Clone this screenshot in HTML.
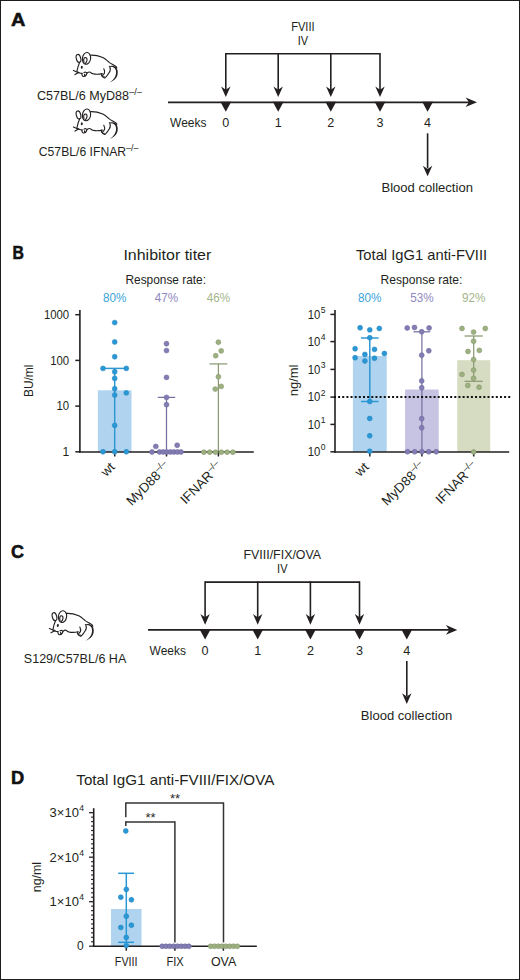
<!DOCTYPE html><html><head><meta charset="utf-8"><style>html,body{margin:0;padding:0;background:#fff;}svg{display:block;}text{font-family:"Liberation Sans",sans-serif;}</style></head><body>
<svg width="520" height="980" viewBox="0 0 520 980">
<rect x="0" y="0" width="520" height="980" fill="#fff"/>
<rect x="0.5" y="0.5" width="519" height="979" fill="none" stroke="#1c1c1c" stroke-width="1"/>
<text x="11.0" y="25.5" font-size="18" fill="#111" font-weight="bold" textLength="14.4" lengthAdjust="spacingAndGlyphs" stroke="#111" stroke-width="0.55">A</text>
<g transform="translate(70,48)"><g fill="none" stroke="#231f20" stroke-width="1.12" stroke-linecap="round" stroke-linejoin="round">
<ellipse cx="8.5" cy="10.4" rx="2.2" ry="4.05" transform="rotate(-14 8.5 10.4)"/>
<ellipse cx="16.5" cy="10.4" rx="4.1" ry="5.9" transform="rotate(8 16.5 10.4)"/>
<path d="M14,14.4 C13.5,12.4 13.8,10.2 15,9.6 C16.4,9.2 17.2,10.6 17,12.2 C16.8,13.6 16,14.8 15.2,15.6"/>
<path d="M9.6,14.4 C8.6,16.6 7.6,19.6 6.9,23.4"/>
<path d="M3.4,22.4 L8,24.4 M5,26.6 L7.6,25 M8.2,24.6 C9.6,25 10.8,25.4 12,25.4"/>
<path d="M12,25.4 C11.7,27 12.4,28.4 13.6,28.5 C15,28.6 16.4,27.4 17,25.2 C16.6,24.2 15.2,23.8 14,24.6 M14.6,26.2 C14.4,27.4 15,28.2 15.6,28"/>
<path d="M17,25 C18.4,24 19.8,23.6 20.6,24.4 C21.6,25.6 24,26.2 27,26.2 C29,26.2 30.6,26 32,25.6"/>
<path d="M20.3,7.2 C24,7 28,7.6 32.8,9.5 C35.4,10.8 37.4,13 39.2,14.4 C41.2,15.8 43.4,16.8 45.6,18.2 C46.4,18.8 46.8,19.4 46.8,20"/>
<path d="M39.8,18.4 C40.6,20.8 40,23.6 39.2,24.6 C38.2,26.4 37.2,27.8 35.4,29.6 C34.4,30.4 33.4,29.8 34,28.8"/>
<path d="M33.8,20.8 C34.6,22.4 35,24 34.4,25.2 C33.8,26.4 32.6,27 32.4,28 C32.2,28.8 33,29.6 34,28.8"/>
<path d="M32,25.6 C31.4,26.6 31.2,27.6 31.8,28"/>
</g>
<ellipse cx="11.8" cy="19.3" rx="1.0" ry="1.45" transform="rotate(15 11.75 19.3)" fill="#231f20"/>
<ellipse cx="8.4" cy="24.3" rx="1.3" ry="0.7" transform="rotate(25 8.4 24.3)" fill="#231f20"/>
<path d="M38.2,18.4 C40.6,17.6 43.4,17.4 45.7,19 C47.6,20.6 48,23.4 47.6,26.2 C47.2,29 45.4,31.2 43,32.8 C42,33.5 40.8,34.1 39.6,34.5 C41.6,33 43.6,31.4 44.8,29.2 C46,27 46.4,24.4 45.8,22.2 C45.2,20.2 43.4,19 40.8,18.8 Z" fill="#231f20"/></g>
<g transform="translate(70,104.5)"><g fill="none" stroke="#231f20" stroke-width="1.12" stroke-linecap="round" stroke-linejoin="round">
<ellipse cx="8.5" cy="10.4" rx="2.2" ry="4.05" transform="rotate(-14 8.5 10.4)"/>
<ellipse cx="16.5" cy="10.4" rx="4.1" ry="5.9" transform="rotate(8 16.5 10.4)"/>
<path d="M14,14.4 C13.5,12.4 13.8,10.2 15,9.6 C16.4,9.2 17.2,10.6 17,12.2 C16.8,13.6 16,14.8 15.2,15.6"/>
<path d="M9.6,14.4 C8.6,16.6 7.6,19.6 6.9,23.4"/>
<path d="M3.4,22.4 L8,24.4 M5,26.6 L7.6,25 M8.2,24.6 C9.6,25 10.8,25.4 12,25.4"/>
<path d="M12,25.4 C11.7,27 12.4,28.4 13.6,28.5 C15,28.6 16.4,27.4 17,25.2 C16.6,24.2 15.2,23.8 14,24.6 M14.6,26.2 C14.4,27.4 15,28.2 15.6,28"/>
<path d="M17,25 C18.4,24 19.8,23.6 20.6,24.4 C21.6,25.6 24,26.2 27,26.2 C29,26.2 30.6,26 32,25.6"/>
<path d="M20.3,7.2 C24,7 28,7.6 32.8,9.5 C35.4,10.8 37.4,13 39.2,14.4 C41.2,15.8 43.4,16.8 45.6,18.2 C46.4,18.8 46.8,19.4 46.8,20"/>
<path d="M39.8,18.4 C40.6,20.8 40,23.6 39.2,24.6 C38.2,26.4 37.2,27.8 35.4,29.6 C34.4,30.4 33.4,29.8 34,28.8"/>
<path d="M33.8,20.8 C34.6,22.4 35,24 34.4,25.2 C33.8,26.4 32.6,27 32.4,28 C32.2,28.8 33,29.6 34,28.8"/>
<path d="M32,25.6 C31.4,26.6 31.2,27.6 31.8,28"/>
</g>
<ellipse cx="11.8" cy="19.3" rx="1.0" ry="1.45" transform="rotate(15 11.75 19.3)" fill="#231f20"/>
<ellipse cx="8.4" cy="24.3" rx="1.3" ry="0.7" transform="rotate(25 8.4 24.3)" fill="#231f20"/>
<path d="M38.2,18.4 C40.6,17.6 43.4,17.4 45.7,19 C47.6,20.6 48,23.4 47.6,26.2 C47.2,29 45.4,31.2 43,32.8 C42,33.5 40.8,34.1 39.6,34.5 C41.6,33 43.6,31.4 44.8,29.2 C46,27 46.4,24.4 45.8,22.2 C45.2,20.2 43.4,19 40.8,18.8 Z" fill="#231f20"/></g>
<text x="36.9" y="100" font-size="12.6" fill="#231f20" textLength="92.2" lengthAdjust="spacingAndGlyphs">C57BL/6 MyD88</text>
<text x="129.2" y="94.8" font-size="8.5" fill="#231f20" textLength="12.8" lengthAdjust="spacingAndGlyphs">&#8211;/&#8211;</text>
<text x="38.8" y="156" font-size="12.6" fill="#231f20" textLength="87.3" lengthAdjust="spacingAndGlyphs">C57BL/6 IFNAR</text>
<text x="126.2" y="150.8" font-size="8.5" fill="#231f20" textLength="12.3" lengthAdjust="spacingAndGlyphs">&#8211;/&#8211;</text>
<line x1="168" y1="102.3" x2="471.0" y2="102.3" stroke="#231f20" stroke-width="1.7" />
<path d="M477.0,102.3 L465.6,97.5 L469.0,102.3 L465.6,107.1 Z" fill="#231f20"/>
<line x1="225.8" y1="53.8" x2="380.0" y2="53.8" stroke="#231f20" stroke-width="1.6" />
<line x1="225.8" y1="53.0" x2="225.8" y2="92.3" stroke="#231f20" stroke-width="1.6" />
<path d="M225.8,97.1 L221.10000000000002,86.5 L225.8,89.7 L230.5,86.5 Z" fill="#231f20"/>
<line x1="278.2" y1="53.0" x2="278.2" y2="92.3" stroke="#231f20" stroke-width="1.6" />
<path d="M278.2,97.1 L273.5,86.5 L278.2,89.7 L282.9,86.5 Z" fill="#231f20"/>
<line x1="330.8" y1="53.0" x2="330.8" y2="92.3" stroke="#231f20" stroke-width="1.6" />
<path d="M330.8,97.1 L326.1,86.5 L330.8,89.7 L335.5,86.5 Z" fill="#231f20"/>
<line x1="380.0" y1="53.0" x2="380.0" y2="92.3" stroke="#231f20" stroke-width="1.6" />
<path d="M380.0,97.1 L375.3,86.5 L380.0,89.7 L384.7,86.5 Z" fill="#231f20"/>
<path d="M220.4,101.8 L231.20000000000002,101.8 L225.8,111.8 Z" fill="#231f20"/>
<path d="M272.8,101.8 L283.59999999999997,101.8 L278.2,111.8 Z" fill="#231f20"/>
<path d="M325.40000000000003,101.8 L336.2,101.8 L330.8,111.8 Z" fill="#231f20"/>
<path d="M374.6,101.8 L385.4,101.8 L380.0,111.8 Z" fill="#231f20"/>
<path d="M422.20000000000005,101.8 L433.0,101.8 L427.6,111.8 Z" fill="#231f20"/>
<text x="302.9" y="30.6" font-size="12.6" fill="#231f20" text-anchor="middle" textLength="23.4" lengthAdjust="spacingAndGlyphs">FVIII</text>
<text x="302.9" y="45.3" font-size="12.6" fill="#231f20" text-anchor="middle" textLength="10.4" lengthAdjust="spacingAndGlyphs">IV</text>
<text x="170.1" y="126.8" font-size="12.6" fill="#231f20" textLength="36.4" lengthAdjust="spacingAndGlyphs">Weeks</text>
<text x="225.8" y="126.8" font-size="12.6" fill="#231f20" text-anchor="middle">0</text>
<text x="278.2" y="126.8" font-size="12.6" fill="#231f20" text-anchor="middle">1</text>
<text x="330.8" y="126.8" font-size="12.6" fill="#231f20" text-anchor="middle">2</text>
<text x="380.0" y="126.8" font-size="12.6" fill="#231f20" text-anchor="middle">3</text>
<text x="427.6" y="126.8" font-size="12.6" fill="#231f20" text-anchor="middle">4</text>
<line x1="427.6" y1="133.3" x2="427.6" y2="168.3" stroke="#231f20" stroke-width="1.6" />
<path d="M427.6,176.3 L422.90000000000003,165.70000000000002 L427.6,168.9 L432.3,165.70000000000002 Z" fill="#231f20"/>
<text x="381.5" y="191.9" font-size="12.8" fill="#231f20" textLength="91.4" lengthAdjust="spacingAndGlyphs">Blood collection</text>
<text x="12.4" y="258.8" font-size="18" fill="#111" font-weight="bold" textLength="11.4" lengthAdjust="spacingAndGlyphs" stroke="#111" stroke-width="0.55">B</text>
<text x="123.4" y="260" font-size="14.6" fill="#231f20" textLength="87.9" lengthAdjust="spacingAndGlyphs">Inhibitor titer</text>
<text x="125.5" y="283.8" font-size="12.6" fill="#231f20" textLength="80.5" lengthAdjust="spacingAndGlyphs">Response rate:</text>
<text x="114.7" y="301.8" font-size="12.6" fill="#3ba3d8" text-anchor="middle" textLength="23.4" lengthAdjust="spacingAndGlyphs">80%</text>
<text x="166.5" y="301.8" font-size="12.6" fill="#8f89c0" text-anchor="middle" textLength="23.4" lengthAdjust="spacingAndGlyphs">47%</text>
<text x="218.4" y="301.8" font-size="12.6" fill="#a3b58a" text-anchor="middle" textLength="23.4" lengthAdjust="spacingAndGlyphs">46%</text>
<rect x="97.9" y="390.3" width="33.6" height="61.69999999999999" fill="#b0d4f0"/>
<line x1="114.7" y1="368.4" x2="114.7" y2="452" stroke="#2f98d2" stroke-width="1.5" />
<line x1="103.05" y1="368.4" x2="126.35000000000001" y2="368.4" stroke="#2f98d2" stroke-width="1.5" />
<line x1="166.5" y1="397.4" x2="166.5" y2="452" stroke="#7570a0" stroke-width="1.25" />
<line x1="157.75" y1="397.4" x2="175.25" y2="397.4" stroke="#7570a0" stroke-width="1.25" />
<line x1="218.4" y1="363.9" x2="218.4" y2="452" stroke="#8b9a74" stroke-width="1.25" />
<line x1="209.5" y1="363.9" x2="227.3" y2="363.9" stroke="#8b9a74" stroke-width="1.25" />
<line x1="79.9" y1="310" x2="79.9" y2="452.75" stroke="#231f20" stroke-width="1.6" />
<line x1="79.10000000000001" y1="452" x2="253.8" y2="452" stroke="#231f20" stroke-width="1.6" />
<line x1="75.30000000000001" y1="314.7" x2="79.9" y2="314.7" stroke="#231f20" stroke-width="1.5" />
<line x1="75.30000000000001" y1="360.4" x2="79.9" y2="360.4" stroke="#231f20" stroke-width="1.5" />
<line x1="75.30000000000001" y1="406.1" x2="79.9" y2="406.1" stroke="#231f20" stroke-width="1.5" />
<line x1="75.30000000000001" y1="451.8" x2="79.9" y2="451.8" stroke="#231f20" stroke-width="1.5" />
<line x1="114.7" y1="452" x2="114.7" y2="456.5" stroke="#231f20" stroke-width="1.5" />
<line x1="166.5" y1="452" x2="166.5" y2="456.5" stroke="#231f20" stroke-width="1.5" />
<line x1="218.4" y1="452" x2="218.4" y2="456.5" stroke="#231f20" stroke-width="1.5" />
<circle cx="114.7" cy="322.6" r="2.45" fill="#2a98d4" stroke="#2187c2" stroke-width="0.6"/>
<circle cx="114.7" cy="342.0" r="2.45" fill="#2a98d4" stroke="#2187c2" stroke-width="0.6"/>
<circle cx="114.7" cy="356.8" r="2.45" fill="#2a98d4" stroke="#2187c2" stroke-width="0.6"/>
<circle cx="103" cy="368.4" r="2.45" fill="#2a98d4" stroke="#2187c2" stroke-width="0.6"/>
<circle cx="126.3" cy="368.4" r="2.45" fill="#2a98d4" stroke="#2187c2" stroke-width="0.6"/>
<circle cx="114.7" cy="371.8" r="2.45" fill="#2a98d4" stroke="#2187c2" stroke-width="0.6"/>
<circle cx="114.7" cy="378.4" r="2.45" fill="#2a98d4" stroke="#2187c2" stroke-width="0.6"/>
<circle cx="114.7" cy="388.8" r="2.45" fill="#2a98d4" stroke="#2187c2" stroke-width="0.6"/>
<circle cx="114.7" cy="395.1" r="2.45" fill="#2a98d4" stroke="#2187c2" stroke-width="0.6"/>
<circle cx="126.3" cy="392.9" r="2.45" fill="#2a98d4" stroke="#2187c2" stroke-width="0.6"/>
<circle cx="114.7" cy="425.4" r="2.45" fill="#2a98d4" stroke="#2187c2" stroke-width="0.6"/>
<circle cx="103" cy="451.8" r="2.45" fill="#2a98d4" stroke="#2187c2" stroke-width="0.6"/>
<circle cx="114.7" cy="451.8" r="2.45" fill="#2a98d4" stroke="#2187c2" stroke-width="0.6"/>
<circle cx="126.3" cy="451.8" r="2.45" fill="#2a98d4" stroke="#2187c2" stroke-width="0.6"/>
<circle cx="166.5" cy="343.7" r="2.45" fill="#837db5" stroke="#6c6799" stroke-width="0.6"/>
<circle cx="166.5" cy="350.6" r="2.45" fill="#837db5" stroke="#6c6799" stroke-width="0.6"/>
<circle cx="166.5" cy="377.4" r="2.45" fill="#837db5" stroke="#6c6799" stroke-width="0.6"/>
<circle cx="166.5" cy="397.4" r="2.45" fill="#837db5" stroke="#6c6799" stroke-width="0.6"/>
<circle cx="166.5" cy="404.7" r="2.45" fill="#837db5" stroke="#6c6799" stroke-width="0.6"/>
<circle cx="155.8" cy="446.4" r="2.45" fill="#837db5" stroke="#6c6799" stroke-width="0.6"/>
<circle cx="177.2" cy="445.3" r="2.45" fill="#837db5" stroke="#6c6799" stroke-width="0.6"/>
<circle cx="152" cy="452" r="2.45" fill="#837db5" stroke="#6c6799" stroke-width="0.6"/>
<circle cx="159.6" cy="452" r="2.45" fill="#837db5" stroke="#6c6799" stroke-width="0.6"/>
<circle cx="163.2" cy="452" r="2.45" fill="#837db5" stroke="#6c6799" stroke-width="0.6"/>
<circle cx="166.7" cy="452" r="2.45" fill="#837db5" stroke="#6c6799" stroke-width="0.6"/>
<circle cx="170.3" cy="452" r="2.45" fill="#837db5" stroke="#6c6799" stroke-width="0.6"/>
<circle cx="173.9" cy="452" r="2.45" fill="#837db5" stroke="#6c6799" stroke-width="0.6"/>
<circle cx="177.4" cy="452" r="2.45" fill="#837db5" stroke="#6c6799" stroke-width="0.6"/>
<circle cx="181.0" cy="452" r="2.45" fill="#837db5" stroke="#6c6799" stroke-width="0.6"/>
<circle cx="218.4" cy="342.2" r="2.45" fill="#9db180" stroke="#86966b" stroke-width="0.6"/>
<circle cx="221.2" cy="350.9" r="2.45" fill="#9db180" stroke="#86966b" stroke-width="0.6"/>
<circle cx="215.7" cy="355.7" r="2.45" fill="#9db180" stroke="#86966b" stroke-width="0.6"/>
<circle cx="218.4" cy="376.8" r="2.45" fill="#9db180" stroke="#86966b" stroke-width="0.6"/>
<circle cx="221.2" cy="386.4" r="2.45" fill="#9db180" stroke="#86966b" stroke-width="0.6"/>
<circle cx="215.2" cy="389.1" r="2.45" fill="#9db180" stroke="#86966b" stroke-width="0.6"/>
<circle cx="203.9" cy="452.2" r="2.45" fill="#9db180" stroke="#86966b" stroke-width="0.6"/>
<circle cx="209.7" cy="452.2" r="2.45" fill="#9db180" stroke="#86966b" stroke-width="0.6"/>
<circle cx="215.5" cy="452.2" r="2.45" fill="#9db180" stroke="#86966b" stroke-width="0.6"/>
<circle cx="221.3" cy="452.2" r="2.45" fill="#9db180" stroke="#86966b" stroke-width="0.6"/>
<circle cx="227.1" cy="452.2" r="2.45" fill="#9db180" stroke="#86966b" stroke-width="0.6"/>
<circle cx="232.9" cy="452.2" r="2.45" fill="#9db180" stroke="#86966b" stroke-width="0.6"/>
<text x="69.2" y="319.0" font-size="12.0" fill="#231f20" text-anchor="end" textLength="25.3" lengthAdjust="spacingAndGlyphs">1000</text>
<text x="69.2" y="364.7" font-size="12.0" fill="#231f20" text-anchor="end" textLength="19.0" lengthAdjust="spacingAndGlyphs">100</text>
<text x="69.2" y="410.40000000000003" font-size="12.0" fill="#231f20" text-anchor="end" textLength="12.7" lengthAdjust="spacingAndGlyphs">10</text>
<text x="69.2" y="456.1" font-size="12.0" fill="#231f20" text-anchor="end">1</text>
<text x="0" y="0" font-size="13.2" fill="#231f20" text-anchor="middle" textLength="32.6" lengthAdjust="spacingAndGlyphs" transform="translate(28.3,380.8) rotate(-90)" dominant-baseline="central">BU/ml</text>
<text x="0" y="0" font-size="13.3" fill="#231f20" text-anchor="end" transform="translate(115.7,467.8) rotate(-45)">wt</text>
<text x="0" y="0" font-size="13.3" fill="#231f20" text-anchor="end" transform="translate(170.5,467.5) rotate(-45)">MyD88<tspan font-size="9.2" dy="-5.2">&#8211;/&#8211;</tspan></text>
<text x="0" y="0" font-size="13.3" fill="#231f20" text-anchor="end" transform="translate(222.9,467.5) rotate(-45)">IFNAR<tspan font-size="9.2" dy="-5.2">&#8211;/&#8211;</tspan></text>
<text x="356.0" y="260" font-size="14.6" fill="#231f20" textLength="131.1" lengthAdjust="spacingAndGlyphs">Total IgG1 anti-FVIII</text>
<text x="380.6" y="283.8" font-size="12.6" fill="#231f20" textLength="81.8" lengthAdjust="spacingAndGlyphs">Response rate:</text>
<text x="369.8" y="301.8" font-size="12.6" fill="#3ba3d8" text-anchor="middle" textLength="23.4" lengthAdjust="spacingAndGlyphs">80%</text>
<text x="421.9" y="301.8" font-size="12.6" fill="#8f89c0" text-anchor="middle" textLength="23.4" lengthAdjust="spacingAndGlyphs">53%</text>
<text x="473.7" y="301.8" font-size="12.6" fill="#a3b58a" text-anchor="middle" textLength="23.4" lengthAdjust="spacingAndGlyphs">92%</text>
<rect x="352.90000000000003" y="356.0" width="33.8" height="96.0" fill="#b0d4f0"/>
<rect x="405.04999999999995" y="389.5" width="33.7" height="62.5" fill="#c7c3e2"/>
<rect x="457.2" y="360.2" width="33.0" height="91.80000000000001" fill="#d6dcc2"/>
<line x1="369.8" y1="338.0" x2="369.8" y2="401.5" stroke="#2f98d2" stroke-width="1.5" />
<line x1="361.0" y1="338.0" x2="378.6" y2="338.0" stroke="#2f98d2" stroke-width="1.5" />
<line x1="361.0" y1="401.5" x2="378.6" y2="401.5" stroke="#2f98d2" stroke-width="1.5" />
<line x1="421.9" y1="331.8" x2="421.9" y2="452" stroke="#7570a0" stroke-width="1.25" />
<line x1="413.5" y1="331.8" x2="430.29999999999995" y2="331.8" stroke="#7570a0" stroke-width="1.25" />
<line x1="473.7" y1="336.0" x2="473.7" y2="381.3" stroke="#8b9a74" stroke-width="1.25" />
<line x1="464.55" y1="336.0" x2="482.84999999999997" y2="336.0" stroke="#8b9a74" stroke-width="1.25" />
<line x1="464.55" y1="381.3" x2="482.84999999999997" y2="381.3" stroke="#8b9a74" stroke-width="1.25" />
<line x1="335.0" y1="310" x2="335.0" y2="452.75" stroke="#231f20" stroke-width="1.6" />
<line x1="334.2" y1="452" x2="509.2" y2="452" stroke="#231f20" stroke-width="1.6" />
<line x1="330.4" y1="314.4" x2="335.0" y2="314.4" stroke="#231f20" stroke-width="1.5" />
<line x1="330.4" y1="341.6" x2="335.0" y2="341.6" stroke="#231f20" stroke-width="1.5" />
<line x1="330.4" y1="369.4" x2="335.0" y2="369.4" stroke="#231f20" stroke-width="1.5" />
<line x1="330.4" y1="397.1" x2="335.0" y2="397.1" stroke="#231f20" stroke-width="1.5" />
<line x1="330.4" y1="424.4" x2="335.0" y2="424.4" stroke="#231f20" stroke-width="1.5" />
<line x1="330.4" y1="451.8" x2="335.0" y2="451.8" stroke="#231f20" stroke-width="1.5" />
<line x1="369.8" y1="452" x2="369.8" y2="456.5" stroke="#231f20" stroke-width="1.5" />
<line x1="421.9" y1="452" x2="421.9" y2="456.5" stroke="#231f20" stroke-width="1.5" />
<line x1="473.7" y1="452" x2="473.7" y2="456.5" stroke="#231f20" stroke-width="1.5" />
<circle cx="360.1" cy="327.8" r="2.45" fill="#2a98d4" stroke="#2187c2" stroke-width="0.6"/>
<circle cx="369.8" cy="329.9" r="2.45" fill="#2a98d4" stroke="#2187c2" stroke-width="0.6"/>
<circle cx="379.3" cy="328.5" r="2.45" fill="#2a98d4" stroke="#2187c2" stroke-width="0.6"/>
<circle cx="369.8" cy="337.8" r="2.45" fill="#2a98d4" stroke="#2187c2" stroke-width="0.6"/>
<circle cx="355.1" cy="348.8" r="2.45" fill="#2a98d4" stroke="#2187c2" stroke-width="0.6"/>
<circle cx="374.5" cy="349.4" r="2.45" fill="#2a98d4" stroke="#2187c2" stroke-width="0.6"/>
<circle cx="384.4" cy="353.5" r="2.45" fill="#2a98d4" stroke="#2187c2" stroke-width="0.6"/>
<circle cx="364.9" cy="354.4" r="2.45" fill="#2a98d4" stroke="#2187c2" stroke-width="0.6"/>
<circle cx="355.1" cy="357.8" r="2.45" fill="#2a98d4" stroke="#2187c2" stroke-width="0.6"/>
<circle cx="374.5" cy="358.3" r="2.45" fill="#2a98d4" stroke="#2187c2" stroke-width="0.6"/>
<circle cx="364.9" cy="361.0" r="2.45" fill="#2a98d4" stroke="#2187c2" stroke-width="0.6"/>
<circle cx="369.8" cy="401.5" r="2.45" fill="#2a98d4" stroke="#2187c2" stroke-width="0.6"/>
<circle cx="369.7" cy="418.5" r="2.45" fill="#2a98d4" stroke="#2187c2" stroke-width="0.6"/>
<circle cx="369.7" cy="435.8" r="2.45" fill="#2a98d4" stroke="#2187c2" stroke-width="0.6"/>
<circle cx="369.7" cy="451.3" r="2.45" fill="#2a98d4" stroke="#2187c2" stroke-width="0.6"/>
<circle cx="407.2" cy="328" r="2.45" fill="#837db5" stroke="#6c6799" stroke-width="0.6"/>
<circle cx="414.5" cy="327.5" r="2.45" fill="#837db5" stroke="#6c6799" stroke-width="0.6"/>
<circle cx="429.1" cy="328" r="2.45" fill="#837db5" stroke="#6c6799" stroke-width="0.6"/>
<circle cx="421.7" cy="331.8" r="2.45" fill="#837db5" stroke="#6c6799" stroke-width="0.6"/>
<circle cx="428.8" cy="350.8" r="2.45" fill="#837db5" stroke="#6c6799" stroke-width="0.6"/>
<circle cx="421.7" cy="355.2" r="2.45" fill="#837db5" stroke="#6c6799" stroke-width="0.6"/>
<circle cx="421.7" cy="380.9" r="2.45" fill="#837db5" stroke="#6c6799" stroke-width="0.6"/>
<circle cx="421.7" cy="387.8" r="2.45" fill="#837db5" stroke="#6c6799" stroke-width="0.6"/>
<circle cx="421.7" cy="418.7" r="2.45" fill="#837db5" stroke="#6c6799" stroke-width="0.6"/>
<circle cx="421.7" cy="427.8" r="2.45" fill="#837db5" stroke="#6c6799" stroke-width="0.6"/>
<circle cx="407.5" cy="451.8" r="2.45" fill="#837db5" stroke="#6c6799" stroke-width="0.6"/>
<circle cx="414.7" cy="451.8" r="2.45" fill="#837db5" stroke="#6c6799" stroke-width="0.6"/>
<circle cx="421.9" cy="451.8" r="2.45" fill="#837db5" stroke="#6c6799" stroke-width="0.6"/>
<circle cx="428.7" cy="451.8" r="2.45" fill="#837db5" stroke="#6c6799" stroke-width="0.6"/>
<circle cx="436.2" cy="451.8" r="2.45" fill="#837db5" stroke="#6c6799" stroke-width="0.6"/>
<circle cx="462" cy="328.5" r="2.45" fill="#9db180" stroke="#86966b" stroke-width="0.6"/>
<circle cx="485.3" cy="328.5" r="2.45" fill="#9db180" stroke="#86966b" stroke-width="0.6"/>
<circle cx="473.6" cy="332.1" r="2.45" fill="#9db180" stroke="#86966b" stroke-width="0.6"/>
<circle cx="473.6" cy="341.2" r="2.45" fill="#9db180" stroke="#86966b" stroke-width="0.6"/>
<circle cx="468" cy="351.5" r="2.45" fill="#9db180" stroke="#86966b" stroke-width="0.6"/>
<circle cx="479.3" cy="350.4" r="2.45" fill="#9db180" stroke="#86966b" stroke-width="0.6"/>
<circle cx="473.6" cy="359.6" r="2.45" fill="#9db180" stroke="#86966b" stroke-width="0.6"/>
<circle cx="473.6" cy="370.1" r="2.45" fill="#9db180" stroke="#86966b" stroke-width="0.6"/>
<circle cx="462" cy="374.4" r="2.45" fill="#9db180" stroke="#86966b" stroke-width="0.6"/>
<circle cx="473.6" cy="378.3" r="2.45" fill="#9db180" stroke="#86966b" stroke-width="0.6"/>
<circle cx="467.8" cy="385.5" r="2.45" fill="#9db180" stroke="#86966b" stroke-width="0.6"/>
<circle cx="479.1" cy="387.2" r="2.45" fill="#9db180" stroke="#86966b" stroke-width="0.6"/>
<circle cx="473.6" cy="452" r="2.45" fill="#9db180" stroke="#86966b" stroke-width="0.6"/>
<text x="320.4" y="318.7" font-size="12.0" fill="#231f20" text-anchor="end" textLength="12.6" lengthAdjust="spacingAndGlyphs">10</text>
<text x="320.7" y="312.79999999999995" font-size="8.6" fill="#231f20">5</text>
<text x="320.4" y="345.90000000000003" font-size="12.0" fill="#231f20" text-anchor="end" textLength="12.6" lengthAdjust="spacingAndGlyphs">10</text>
<text x="320.7" y="340.0" font-size="8.6" fill="#231f20">4</text>
<text x="320.4" y="373.7" font-size="12.0" fill="#231f20" text-anchor="end" textLength="12.6" lengthAdjust="spacingAndGlyphs">10</text>
<text x="320.7" y="367.79999999999995" font-size="8.6" fill="#231f20">3</text>
<text x="320.4" y="401.40000000000003" font-size="12.0" fill="#231f20" text-anchor="end" textLength="12.6" lengthAdjust="spacingAndGlyphs">10</text>
<text x="320.7" y="395.5" font-size="8.6" fill="#231f20">2</text>
<text x="320.4" y="428.7" font-size="12.0" fill="#231f20" text-anchor="end" textLength="12.6" lengthAdjust="spacingAndGlyphs">10</text>
<text x="320.7" y="422.79999999999995" font-size="8.6" fill="#231f20">1</text>
<text x="320.4" y="456.1" font-size="12.0" fill="#231f20" text-anchor="end" textLength="12.6" lengthAdjust="spacingAndGlyphs">10</text>
<text x="320.7" y="450.2" font-size="8.6" fill="#231f20">0</text>
<text x="0" y="0" font-size="13.2" fill="#231f20" text-anchor="middle" textLength="31.8" lengthAdjust="spacingAndGlyphs" transform="translate(293.2,380.4) rotate(-90)" dominant-baseline="central">ng/ml</text>
<text x="0" y="0" font-size="13.3" fill="#231f20" text-anchor="end" transform="translate(369.5,467.8) rotate(-45)">wt</text>
<text x="0" y="0" font-size="13.3" fill="#231f20" text-anchor="end" transform="translate(425.9,467.5) rotate(-45)">MyD88<tspan font-size="9.2" dy="-5.2">&#8211;/&#8211;</tspan></text>
<text x="0" y="0" font-size="13.3" fill="#231f20" text-anchor="end" transform="translate(478.2,467.5) rotate(-45)">IFNAR<tspan font-size="9.2" dy="-5.2">&#8211;/&#8211;</tspan></text>
<line x1="333.95" y1="396.95" x2="510.3" y2="396.95" stroke="#111" stroke-width="1.9" stroke-dasharray="2 2.15"/>
<text x="11.0" y="558.0" font-size="18.6" fill="#111" font-weight="bold" textLength="13.0" lengthAdjust="spacingAndGlyphs" stroke="#111" stroke-width="0.55">C</text>
<g transform="translate(46,606.2)"><g fill="none" stroke="#231f20" stroke-width="1.12" stroke-linecap="round" stroke-linejoin="round">
<ellipse cx="8.5" cy="10.4" rx="2.2" ry="4.05" transform="rotate(-14 8.5 10.4)"/>
<ellipse cx="16.5" cy="10.4" rx="4.1" ry="5.9" transform="rotate(8 16.5 10.4)"/>
<path d="M14,14.4 C13.5,12.4 13.8,10.2 15,9.6 C16.4,9.2 17.2,10.6 17,12.2 C16.8,13.6 16,14.8 15.2,15.6"/>
<path d="M9.6,14.4 C8.6,16.6 7.6,19.6 6.9,23.4"/>
<path d="M3.4,22.4 L8,24.4 M5,26.6 L7.6,25 M8.2,24.6 C9.6,25 10.8,25.4 12,25.4"/>
<path d="M12,25.4 C11.7,27 12.4,28.4 13.6,28.5 C15,28.6 16.4,27.4 17,25.2 C16.6,24.2 15.2,23.8 14,24.6 M14.6,26.2 C14.4,27.4 15,28.2 15.6,28"/>
<path d="M17,25 C18.4,24 19.8,23.6 20.6,24.4 C21.6,25.6 24,26.2 27,26.2 C29,26.2 30.6,26 32,25.6"/>
<path d="M20.3,7.2 C24,7 28,7.6 32.8,9.5 C35.4,10.8 37.4,13 39.2,14.4 C41.2,15.8 43.4,16.8 45.6,18.2 C46.4,18.8 46.8,19.4 46.8,20"/>
<path d="M39.8,18.4 C40.6,20.8 40,23.6 39.2,24.6 C38.2,26.4 37.2,27.8 35.4,29.6 C34.4,30.4 33.4,29.8 34,28.8"/>
<path d="M33.8,20.8 C34.6,22.4 35,24 34.4,25.2 C33.8,26.4 32.6,27 32.4,28 C32.2,28.8 33,29.6 34,28.8"/>
<path d="M32,25.6 C31.4,26.6 31.2,27.6 31.8,28"/>
</g>
<ellipse cx="11.8" cy="19.3" rx="1.0" ry="1.45" transform="rotate(15 11.75 19.3)" fill="#231f20"/>
<ellipse cx="8.4" cy="24.3" rx="1.3" ry="0.7" transform="rotate(25 8.4 24.3)" fill="#231f20"/>
<path d="M38.2,18.4 C40.6,17.6 43.4,17.4 45.7,19 C47.6,20.6 48,23.4 47.6,26.2 C47.2,29 45.4,31.2 43,32.8 C42,33.5 40.8,34.1 39.6,34.5 C41.6,33 43.6,31.4 44.8,29.2 C46,27 46.4,24.4 45.8,22.2 C45.2,20.2 43.4,19 40.8,18.8 Z" fill="#231f20"/></g>
<text x="23.8" y="663" font-size="12.6" fill="#231f20" textLength="102.5" lengthAdjust="spacingAndGlyphs">S129/C57BL/6 HA</text>
<line x1="148" y1="629.9" x2="451.3" y2="629.9" stroke="#231f20" stroke-width="1.7" />
<path d="M457.3,629.9 L445.90000000000003,625.1 L449.3,629.9 L445.90000000000003,634.6999999999999 Z" fill="#231f20"/>
<line x1="205.1" y1="582.1" x2="359.5" y2="582.1" stroke="#231f20" stroke-width="1.6" />
<line x1="205.1" y1="581.3000000000001" x2="205.1" y2="619.9" stroke="#231f20" stroke-width="1.6" />
<path d="M205.1,624.6999999999999 L200.4,614.0999999999999 L205.1,617.3 L209.79999999999998,614.0999999999999 Z" fill="#231f20"/>
<line x1="257.7" y1="581.3000000000001" x2="257.7" y2="619.9" stroke="#231f20" stroke-width="1.6" />
<path d="M257.7,624.6999999999999 L253.0,614.0999999999999 L257.7,617.3 L262.4,614.0999999999999 Z" fill="#231f20"/>
<line x1="310.4" y1="581.3000000000001" x2="310.4" y2="619.9" stroke="#231f20" stroke-width="1.6" />
<path d="M310.4,624.6999999999999 L305.7,614.0999999999999 L310.4,617.3 L315.09999999999997,614.0999999999999 Z" fill="#231f20"/>
<line x1="359.5" y1="581.3000000000001" x2="359.5" y2="619.9" stroke="#231f20" stroke-width="1.6" />
<path d="M359.5,624.6999999999999 L354.8,614.0999999999999 L359.5,617.3 L364.2,614.0999999999999 Z" fill="#231f20"/>
<path d="M199.7,629.4 L210.5,629.4 L205.1,639.4 Z" fill="#231f20"/>
<path d="M252.29999999999998,629.4 L263.09999999999997,629.4 L257.7,639.4 Z" fill="#231f20"/>
<path d="M305.0,629.4 L315.79999999999995,629.4 L310.4,639.4 Z" fill="#231f20"/>
<path d="M354.1,629.4 L364.9,629.4 L359.5,639.4 Z" fill="#231f20"/>
<path d="M401.40000000000003,629.4 L412.2,629.4 L406.8,639.4 Z" fill="#231f20"/>
<text x="282.3" y="558.5" font-size="12.6" fill="#231f20" text-anchor="middle" textLength="77.6" lengthAdjust="spacingAndGlyphs">FVIII/FIX/OVA</text>
<text x="282.3" y="573.0" font-size="12.6" fill="#231f20" text-anchor="middle" textLength="10.4" lengthAdjust="spacingAndGlyphs">IV</text>
<text x="149.6" y="655.0" font-size="12.6" fill="#231f20" textLength="36.4" lengthAdjust="spacingAndGlyphs">Weeks</text>
<text x="205.1" y="655.0" font-size="12.6" fill="#231f20" text-anchor="middle">0</text>
<text x="257.7" y="655.0" font-size="12.6" fill="#231f20" text-anchor="middle">1</text>
<text x="310.4" y="655.0" font-size="12.6" fill="#231f20" text-anchor="middle">2</text>
<text x="359.5" y="655.0" font-size="12.6" fill="#231f20" text-anchor="middle">3</text>
<text x="406.8" y="655.0" font-size="12.6" fill="#231f20" text-anchor="middle">4</text>
<line x1="406.8" y1="660.9" x2="406.8" y2="695.9" stroke="#231f20" stroke-width="1.6" />
<path d="M406.8,703.9 L402.1,693.3 L406.8,696.5 L411.5,693.3 Z" fill="#231f20"/>
<text x="360.8" y="719.6" font-size="12.8" fill="#231f20" textLength="91.4" lengthAdjust="spacingAndGlyphs">Blood collection</text>
<text x="11.1" y="783.7" font-size="18" fill="#111" font-weight="bold" textLength="13.2" lengthAdjust="spacingAndGlyphs" stroke="#111" stroke-width="0.55">D</text>
<text x="76.3" y="784.5" font-size="14.6" fill="#231f20" textLength="198" lengthAdjust="spacingAndGlyphs">Total IgG1 anti-FVIII/FIX/OVA</text>
<rect x="111" y="909" width="30.5" height="37.200000000000045" fill="#b0d4f0"/>
<line x1="126.3" y1="873.3" x2="126.3" y2="942.3" stroke="#2a98d4" stroke-width="1.5" />
<line x1="118.2" y1="873.3" x2="134.1" y2="873.3" stroke="#2a98d4" stroke-width="1.5" />
<line x1="118.2" y1="942.3" x2="134.1" y2="942.3" stroke="#2a98d4" stroke-width="1.5" />
<line x1="125.8" y1="803.1" x2="223.5" y2="803.1" stroke="#333" stroke-width="1.5" />
<line x1="125.8" y1="802.4" x2="125.8" y2="817.2" stroke="#333" stroke-width="1.5" />
<line x1="223.5" y1="802.4" x2="223.5" y2="942.4" stroke="#333" stroke-width="1.5" />
<line x1="125.8" y1="821.9" x2="174.9" y2="821.9" stroke="#333" stroke-width="1.5" />
<line x1="125.8" y1="821.2" x2="125.8" y2="826.0" stroke="#333" stroke-width="1.5" />
<line x1="174.9" y1="821.2" x2="174.9" y2="942.4" stroke="#333" stroke-width="1.5" />
<text x="175" y="803.4" font-size="13" fill="#2a2a2a" text-anchor="middle">**</text>
<text x="150.6" y="821.5" font-size="13" fill="#2a2a2a" text-anchor="middle">**</text>
<line x1="93.7" y1="808.2" x2="93.7" y2="946.95" stroke="#231f20" stroke-width="1.6" />
<line x1="92.9" y1="946.2" x2="256.8" y2="946.2" stroke="#231f20" stroke-width="1.6" />
<line x1="89.10000000000001" y1="946.2" x2="93.7" y2="946.2" stroke="#231f20" stroke-width="1.3" />
<line x1="91.10000000000001" y1="941.75" x2="93.7" y2="941.75" stroke="#231f20" stroke-width="1.15" />
<line x1="91.10000000000001" y1="937.3000000000001" x2="93.7" y2="937.3000000000001" stroke="#231f20" stroke-width="1.15" />
<line x1="91.10000000000001" y1="932.85" x2="93.7" y2="932.85" stroke="#231f20" stroke-width="1.15" />
<line x1="91.10000000000001" y1="928.4000000000001" x2="93.7" y2="928.4000000000001" stroke="#231f20" stroke-width="1.15" />
<line x1="91.10000000000001" y1="923.95" x2="93.7" y2="923.95" stroke="#231f20" stroke-width="1.15" />
<line x1="91.10000000000001" y1="919.5" x2="93.7" y2="919.5" stroke="#231f20" stroke-width="1.15" />
<line x1="91.10000000000001" y1="915.0500000000001" x2="93.7" y2="915.0500000000001" stroke="#231f20" stroke-width="1.15" />
<line x1="91.10000000000001" y1="910.6" x2="93.7" y2="910.6" stroke="#231f20" stroke-width="1.15" />
<line x1="91.10000000000001" y1="906.1500000000001" x2="93.7" y2="906.1500000000001" stroke="#231f20" stroke-width="1.15" />
<line x1="89.10000000000001" y1="901.7" x2="93.7" y2="901.7" stroke="#231f20" stroke-width="1.3" />
<line x1="91.10000000000001" y1="897.25" x2="93.7" y2="897.25" stroke="#231f20" stroke-width="1.15" />
<line x1="91.10000000000001" y1="892.8000000000001" x2="93.7" y2="892.8000000000001" stroke="#231f20" stroke-width="1.15" />
<line x1="91.10000000000001" y1="888.35" x2="93.7" y2="888.35" stroke="#231f20" stroke-width="1.15" />
<line x1="91.10000000000001" y1="883.9000000000001" x2="93.7" y2="883.9000000000001" stroke="#231f20" stroke-width="1.15" />
<line x1="91.10000000000001" y1="879.45" x2="93.7" y2="879.45" stroke="#231f20" stroke-width="1.15" />
<line x1="91.10000000000001" y1="875.0" x2="93.7" y2="875.0" stroke="#231f20" stroke-width="1.15" />
<line x1="91.10000000000001" y1="870.5500000000001" x2="93.7" y2="870.5500000000001" stroke="#231f20" stroke-width="1.15" />
<line x1="91.10000000000001" y1="866.1" x2="93.7" y2="866.1" stroke="#231f20" stroke-width="1.15" />
<line x1="91.10000000000001" y1="861.6500000000001" x2="93.7" y2="861.6500000000001" stroke="#231f20" stroke-width="1.15" />
<line x1="89.10000000000001" y1="857.2" x2="93.7" y2="857.2" stroke="#231f20" stroke-width="1.3" />
<line x1="91.10000000000001" y1="852.75" x2="93.7" y2="852.75" stroke="#231f20" stroke-width="1.15" />
<line x1="91.10000000000001" y1="848.3000000000001" x2="93.7" y2="848.3000000000001" stroke="#231f20" stroke-width="1.15" />
<line x1="91.10000000000001" y1="843.85" x2="93.7" y2="843.85" stroke="#231f20" stroke-width="1.15" />
<line x1="91.10000000000001" y1="839.4000000000001" x2="93.7" y2="839.4000000000001" stroke="#231f20" stroke-width="1.15" />
<line x1="91.10000000000001" y1="834.95" x2="93.7" y2="834.95" stroke="#231f20" stroke-width="1.15" />
<line x1="91.10000000000001" y1="830.5" x2="93.7" y2="830.5" stroke="#231f20" stroke-width="1.15" />
<line x1="91.10000000000001" y1="826.0500000000001" x2="93.7" y2="826.0500000000001" stroke="#231f20" stroke-width="1.15" />
<line x1="91.10000000000001" y1="821.6" x2="93.7" y2="821.6" stroke="#231f20" stroke-width="1.15" />
<line x1="91.10000000000001" y1="817.1500000000001" x2="93.7" y2="817.1500000000001" stroke="#231f20" stroke-width="1.15" />
<line x1="89.10000000000001" y1="812.7" x2="93.7" y2="812.7" stroke="#231f20" stroke-width="1.3" />
<line x1="126.3" y1="946.2" x2="126.3" y2="950.7" stroke="#231f20" stroke-width="1.5" />
<line x1="174.9" y1="946.2" x2="174.9" y2="950.7" stroke="#231f20" stroke-width="1.5" />
<line x1="223.4" y1="946.2" x2="223.4" y2="950.7" stroke="#231f20" stroke-width="1.5" />
<circle cx="125.8" cy="831" r="2.45" fill="#2a98d4" stroke="#2187c2" stroke-width="0.6"/>
<circle cx="126.3" cy="889.4" r="2.45" fill="#2a98d4" stroke="#2187c2" stroke-width="0.6"/>
<circle cx="120.8" cy="897.2" r="2.45" fill="#2a98d4" stroke="#2187c2" stroke-width="0.6"/>
<circle cx="131.4" cy="899.8" r="2.45" fill="#2a98d4" stroke="#2187c2" stroke-width="0.6"/>
<circle cx="126.3" cy="916.3" r="2.45" fill="#2a98d4" stroke="#2187c2" stroke-width="0.6"/>
<circle cx="120.8" cy="927.5" r="2.45" fill="#2a98d4" stroke="#2187c2" stroke-width="0.6"/>
<circle cx="131.4" cy="925.2" r="2.45" fill="#2a98d4" stroke="#2187c2" stroke-width="0.6"/>
<circle cx="126.3" cy="937.5" r="2.45" fill="#2a98d4" stroke="#2187c2" stroke-width="0.6"/>
<circle cx="126.3" cy="945.6" r="2.45" fill="#2a98d4" stroke="#2187c2" stroke-width="0.6"/>
<circle cx="162.2" cy="946.3" r="2.45" fill="#837db5" stroke="#6c6799" stroke-width="0.6"/>
<circle cx="166.0" cy="946.3" r="2.45" fill="#837db5" stroke="#6c6799" stroke-width="0.6"/>
<circle cx="169.79999999999998" cy="946.3" r="2.45" fill="#837db5" stroke="#6c6799" stroke-width="0.6"/>
<circle cx="173.6" cy="946.3" r="2.45" fill="#837db5" stroke="#6c6799" stroke-width="0.6"/>
<circle cx="177.39999999999998" cy="946.3" r="2.45" fill="#837db5" stroke="#6c6799" stroke-width="0.6"/>
<circle cx="181.2" cy="946.3" r="2.45" fill="#837db5" stroke="#6c6799" stroke-width="0.6"/>
<circle cx="185.0" cy="946.3" r="2.45" fill="#837db5" stroke="#6c6799" stroke-width="0.6"/>
<circle cx="188.79999999999998" cy="946.3" r="2.45" fill="#837db5" stroke="#6c6799" stroke-width="0.6"/>
<circle cx="210.7" cy="946.3" r="2.45" fill="#9db180" stroke="#86966b" stroke-width="0.6"/>
<circle cx="214.5" cy="946.3" r="2.45" fill="#9db180" stroke="#86966b" stroke-width="0.6"/>
<circle cx="218.29999999999998" cy="946.3" r="2.45" fill="#9db180" stroke="#86966b" stroke-width="0.6"/>
<circle cx="222.1" cy="946.3" r="2.45" fill="#9db180" stroke="#86966b" stroke-width="0.6"/>
<circle cx="225.89999999999998" cy="946.3" r="2.45" fill="#9db180" stroke="#86966b" stroke-width="0.6"/>
<circle cx="229.7" cy="946.3" r="2.45" fill="#9db180" stroke="#86966b" stroke-width="0.6"/>
<circle cx="233.5" cy="946.3" r="2.45" fill="#9db180" stroke="#86966b" stroke-width="0.6"/>
<circle cx="237.29999999999998" cy="946.3" r="2.45" fill="#9db180" stroke="#86966b" stroke-width="0.6"/>
<text x="49.6" y="817.1" font-size="12.0" fill="#231f20" textLength="29.3" lengthAdjust="spacingAndGlyphs">3&#215;10</text>
<text x="79.2" y="811.3000000000001" font-size="8.6" fill="#231f20">4</text>
<text x="49.6" y="861.5" font-size="12.0" fill="#231f20" textLength="29.3" lengthAdjust="spacingAndGlyphs">2&#215;10</text>
<text x="79.2" y="855.7" font-size="8.6" fill="#231f20">4</text>
<text x="49.6" y="906.0" font-size="12.0" fill="#231f20" textLength="29.3" lengthAdjust="spacingAndGlyphs">1&#215;10</text>
<text x="79.2" y="900.2" font-size="8.6" fill="#231f20">4</text>
<text x="83.6" y="950.4" font-size="12.0" fill="#231f20" text-anchor="end">0</text>
<text x="0" y="0" font-size="13.2" fill="#231f20" text-anchor="middle" textLength="30.2" lengthAdjust="spacingAndGlyphs" transform="translate(36.8,877.1) rotate(-90)" dominant-baseline="central">ng/ml</text>
<text x="126.2" y="966.1" font-size="12.2" fill="#231f20" text-anchor="middle" textLength="22.7" lengthAdjust="spacingAndGlyphs">FVIII</text>
<text x="175.1" y="966.1" font-size="12.2" fill="#231f20" text-anchor="middle" textLength="17.3" lengthAdjust="spacingAndGlyphs">FIX</text>
<text x="223.6" y="966.1" font-size="12.2" fill="#231f20" text-anchor="middle" textLength="25.4" lengthAdjust="spacingAndGlyphs">OVA</text>
</svg></body></html>
